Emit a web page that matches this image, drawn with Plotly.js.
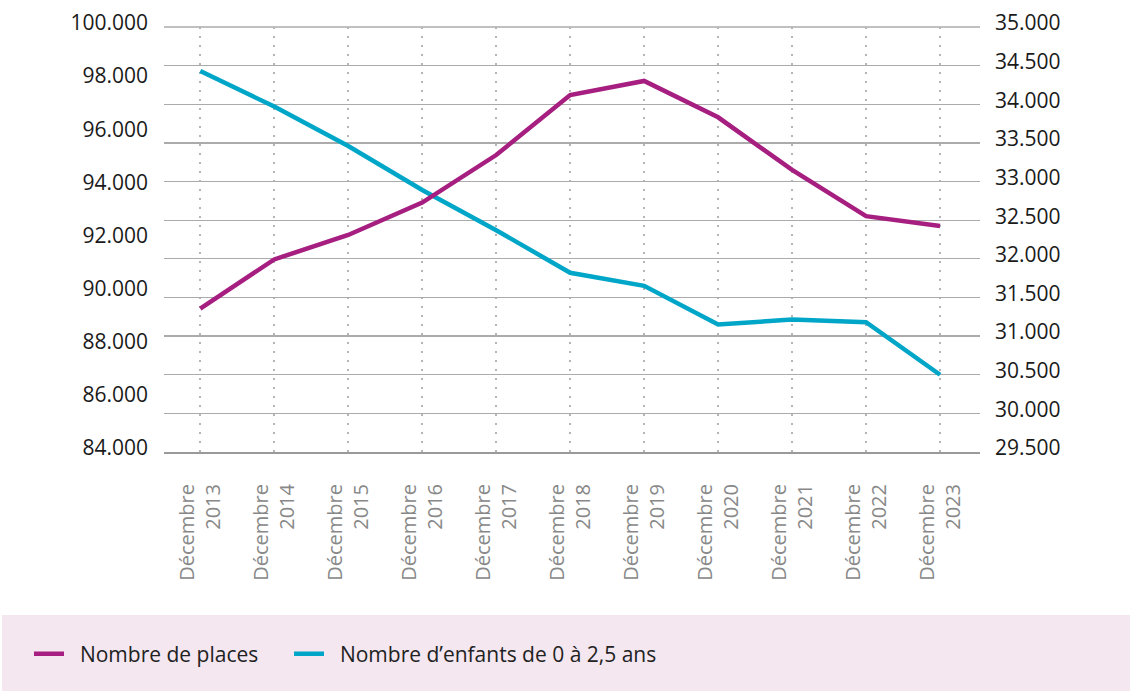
<!DOCTYPE html>
<html>
<head>
<meta charset="utf-8">
<script src="https://cdn.plot.ly/plotly-3.0.1.min.js"></script>
<style>
html,body{margin:0;padding:0;background:#fff;}
#chart{width:1130px;height:691px;}
</style>
</head>
<body>
<div id="chart"></div>
<script>
// ---- data ----
var categories = ["Décembre<br>2013","Décembre<br>2014","Décembre<br>2015","Décembre<br>2016","Décembre<br>2017","Décembre<br>2018","Décembre<br>2019","Décembre<br>2020","Décembre<br>2021","Décembre<br>2022","Décembre<br>2023"];
var places = [89400, 91250, 92170, 93390, 95180, 97440, 97970, 96600, 94620, 92880, 92510];
var enfants = [34430, 33970, 33460, 32890, 32370, 31820, 31650, 31150, 31215, 31180, 30500];
var seriesNames = ["Nombre de places", "Nombre d\u2019enfants de 0 à 2,5 ans"];
var leftTicks = [84000, 86000, 88000, 90000, 92000, 94000, 96000, 98000, 100000];
var rightTicks = [29500, 30000, 30500, 31000, 31500, 32000, 32500, 33000, 33500, 34000, 34500, 35000];

// ---- layout geometry (pixels) ----
var W = 1130, H = 691;
var mL = 164, mR = 150, mT = 27, mB = 239;
var pw = W - mL - mR, ph = H - mT - mB;
function px2x(p){ return (p - mL) / pw; }
function py2y(p){ return (H - mB - p) / ph; }

var rightRange = [rightTicks[0], rightTicks[rightTicks.length - 1]];
var leftRange = [leftTicks[0], leftTicks[leftTicks.length - 1]];

var FONT = "Open Sans, Noto Sans, sans-serif";
var GRID = "#ababab";

var traces = [
  {
    x: categories, y: places, name: "\u00a0\u00a0" + seriesNames[0],
    type: "scatter", mode: "lines", yaxis: "y2", legend: "legend",
    line: {color: "#a61e7f", width: 4.5},
    hoverinfo: "skip"
  },
  {
    x: categories, y: enfants, name: "\u00a0\u00a0" + seriesNames[1],
    type: "scatter", mode: "lines", yaxis: "y", legend: "legend2",
    line: {color: "#00a6c8", width: 4.5},
    hoverinfo: "skip"
  }
];

var legendStyle = {
  orientation: "h",
  yanchor: "middle",
  y: py2y(654),
  xanchor: "left",
  bgcolor: "rgba(0,0,0,0)",
  borderwidth: 0,
  font: {family: FONT, size: 21, color: "#222222"}
};

var layout = {
  width: W, height: H,
  margin: {l: mL, r: mR, t: mT, b: mB, pad: 0},
  paper_bgcolor: "#ffffff",
  plot_bgcolor: "rgba(0,0,0,0)",
  separators: ",.",
  font: {family: FONT, color: "#1a1a1a"},
  showlegend: true,
  xaxis: {
    type: "category",
    range: [-0.49, 10.54],
    showgrid: true,
    gridcolor: "#b5b5b5",
    gridwidth: 2,
    griddash: "2px,7px",
    showline: true,
    linecolor: "#9a9a9a",
    linewidth: 2,
    ticks: "",
    tickangle: -90,
    ticklabelstandoff: 22,
    tickfont: {family: FONT, size: 20, color: "#888888"},
    zeroline: false,
    fixedrange: true
  },
  yaxis: {
    side: "right",
    range: rightRange,
    tickmode: "array",
    tickvals: rightTicks,
    tickformat: ",d",
    showgrid: true,
    gridcolor: GRID,
    gridwidth: 1.3,
    zeroline: false,
    showline: false,
    ticks: "",
    ticklabelstandoff: 14,
    ticklabelshift: -4,
    tickfont: {family: FONT, size: 21, color: "#1a1a1a"},
    fixedrange: true
  },
  yaxis2: {
    overlaying: "y",
    side: "left",
    range: leftRange,
    tickmode: "array",
    tickvals: leftTicks,
    tickformat: ",d",
    showgrid: false,
    zeroline: false,
    showline: false,
    ticks: "",
    ticklabelstandoff: 15,
    ticklabelshift: -4,
    tickfont: {family: FONT, size: 21, color: "#1a1a1a"},
    fixedrange: true
  },
  legend: Object.assign({}, legendStyle, {x: px2x(29)}),
  legend2: Object.assign({}, legendStyle, {x: px2x(289)}),
  shapes: [
    // top gridline (Plotly skips the gridline sitting on the plot edge)
    {
      type: "line", xref: "paper", yref: "paper", layer: "below",
      x0: 0, x1: 1, y0: 1, y1: 1,
      line: {color: GRID, width: 1.3}
    },
    // legend band
    {
      type: "rect", xref: "paper", yref: "paper", layer: "below",
      x0: px2x(2), x1: px2x(1130), y0: py2y(615), y1: py2y(691),
      fillcolor: "#f4e7f0", line: {width: 0}
    }
  ]
};

Plotly.newPlot("chart", traces, layout, {displayModeBar: false, staticPlot: true});
</script>
</body>
</html>
